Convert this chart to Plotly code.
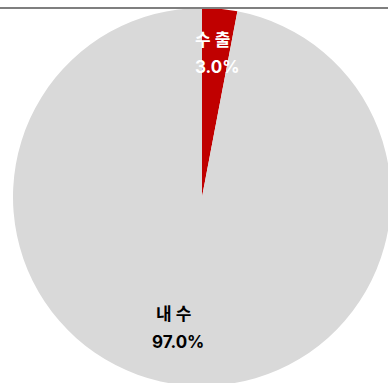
import plotly.graph_objects as go

# Domestic vs. export share
categories = ["수 출", "내 수"]
shares = [3.0, 97.0]
slice_colors = ["#C00000", "#D9D9D9"]
label_colors = ["#FFFFFF", "#000000"]

# Label anchor points (paper coordinates) for the name line and the value line
name_pos = [(0.528, 0.915), (0.425, 0.190)]
value_pos = [(0.542, 0.844), (0.436, 0.116)]

fig = go.Figure(
    go.Pie(
        labels=categories,
        values=shares,
        sort=False,
        direction="clockwise",
        rotation=0,
        marker=dict(colors=slice_colors, line=dict(width=0)),
        textinfo="none",
        hoverinfo="label+percent",
        showlegend=False,
    )
)

font_family = "Inter, Noto Sans CJK KR, sans-serif"
annotations = []
for name, val, col, (nx, ny), (vx, vy) in zip(categories, shares, label_colors, name_pos, value_pos):
    common = dict(xref="paper", yref="paper", showarrow=False, xanchor="center", yanchor="middle",
                  font=dict(family=font_family, size=17, color=col))
    annotations.append(dict(x=nx, y=ny, text=f"<b>{name}</b>", **common))
    annotations.append(dict(x=vx, y=vy, text=f"<b>{val:.1f}%</b>", **common))

fig.update_layout(
    width=392,
    height=390,
    autosize=False,
    margin=dict(l=13, r=1, t=8, b=4),
    paper_bgcolor="white",
    plot_bgcolor="white",
    annotations=annotations,
    shapes=[dict(type="line", xref="paper", yref="paper", x0=-0.1, x1=1.1, y0=1.0, y1=1.0,
                 line=dict(color="#7F7F7F", width=2), layer="above")],
)

fig.write_html(
    "out.html",
    post_script="document.documentElement.style.overflow='hidden';document.body.style.overflow='hidden';document.body.style.margin='0';",
)
